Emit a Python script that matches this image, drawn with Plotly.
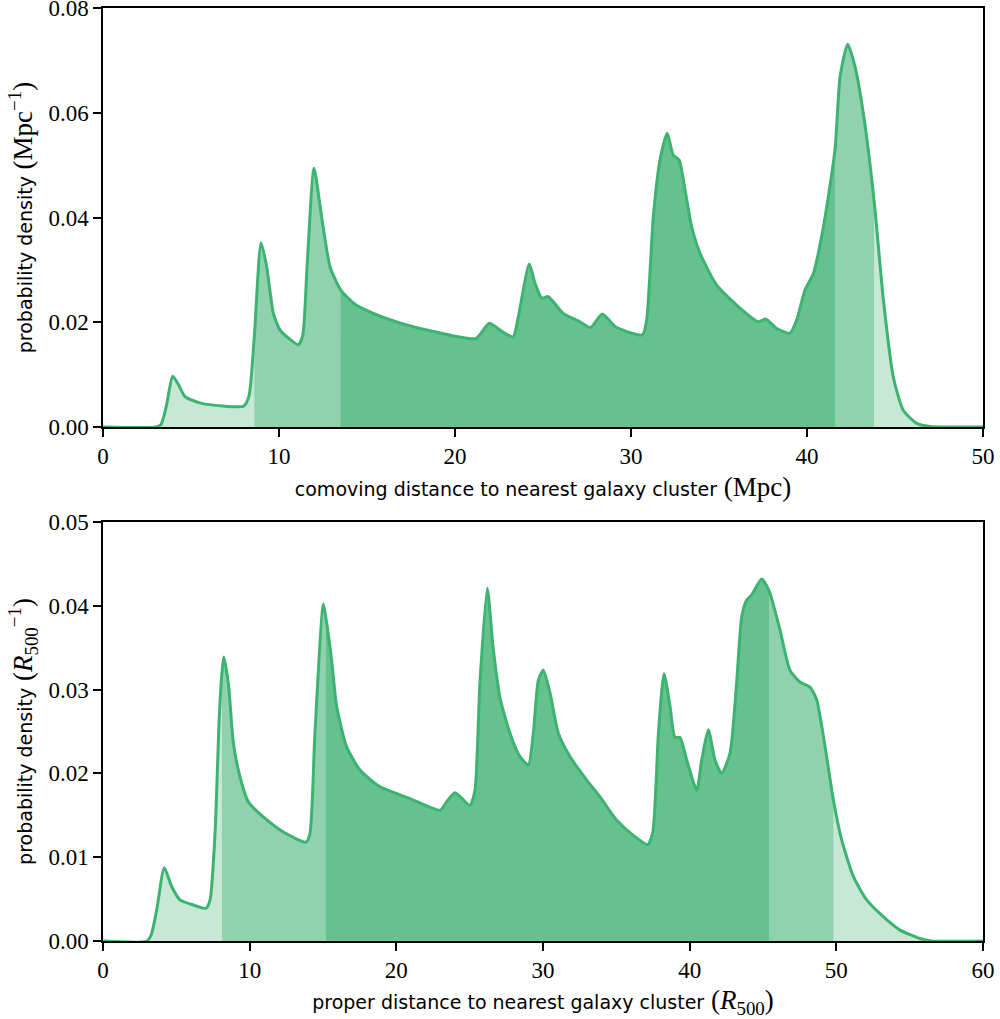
import plotly.graph_objects as go
from plotly.subplots import make_subplots

# ---- top panel: comoving distance (Mpc) ----
top_x = [0, 3.0, 3.3, 3.6, 3.96, 4.3, 4.66, 5.5, 6.8, 8.0, 8.3, 8.6, 8.98, 9.3, 9.68, 10.06,
         10.6, 11.1, 11.35, 11.6, 11.99, 12.42, 12.9, 13.5, 14.3, 15.36, 17.25, 19.9, 21.2,
         21.95, 22.56, 23.3, 23.6, 24.22, 24.55, 24.93, 25.3, 26.15, 27.1, 27.7, 28.37, 29.09,
         29.94, 30.66, 30.89, 31.27, 31.65, 32.06, 32.4, 32.73, 33.07, 33.45, 33.92, 34.87,
         36.19, 37.23, 37.67, 38.28, 39.03, 39.41, 39.89, 40.36, 40.93, 41.59, 41.88, 42.31,
         42.73, 43.2, 43.81, 44.34, 44.9, 45.47, 46.23, 47.0, 50]
top_y = [0, 0, 0.0005, 0.004, 0.0097, 0.0080, 0.0058, 0.0046, 0.0040, 0.0040, 0.0060, 0.0175,
         0.0352, 0.0306, 0.0217, 0.0185, 0.0168, 0.0157, 0.0175, 0.031, 0.0494, 0.0402, 0.0306,
         0.0262, 0.0235, 0.0217, 0.0195, 0.0174, 0.0169, 0.0198, 0.0185, 0.0172, 0.0211, 0.0311,
         0.0274, 0.0246, 0.0249, 0.0217, 0.0201, 0.0190, 0.0216, 0.0192, 0.0180, 0.0176, 0.0204,
         0.0402, 0.0510, 0.0561, 0.0519, 0.0510, 0.0453, 0.0382, 0.0332, 0.0271, 0.0227, 0.0201,
         0.0206, 0.0188, 0.0179, 0.0204, 0.0262, 0.0293, 0.0382, 0.0529, 0.0669, 0.0731, 0.0688,
         0.0599, 0.0433, 0.0243, 0.0096, 0.0032, 0.0007, 0.0001, 0]
top_mid = [8.6, 43.81]     # medium-shaded interval
top_core = [13.5, 41.59]   # dark-shaded interval

# ---- bottom panel: proper distance (R500) ----
bot_x = [0, 3.0, 3.3, 3.66, 4.18, 4.68, 5.25, 6.16, 7.02, 7.3, 7.64, 7.93, 8.11, 8.23, 8.55,
         8.89, 9.34, 9.91, 10.93, 12.3, 13.84, 14.11, 14.45, 15.02, 15.2, 15.59, 15.93, 16.61,
         17.52, 18.89, 20.93, 22.98, 23.43, 24.0, 25.02, 25.36, 25.7, 26.2, 26.6, 27.07, 27.75,
         28.43, 29.0, 29.34, 29.68, 30.02, 30.48, 31.05, 31.84, 32.98, 33.89, 35.03, 36.16,
         37.14, 37.48, 37.87, 38.25, 38.66, 39.0, 39.34, 39.8, 40.48, 40.82, 41.27, 41.73,
         42.18, 42.75, 43.2, 43.55, 43.89, 44.23, 44.9, 45.41, 46.16, 46.84, 47.52, 48.2,
         48.66, 49.23, 49.8, 50.36, 51.16, 52.07, 53.2, 54.34, 55.7, 56.5, 60]
bot_y = [0, 0, 0.0008, 0.0037, 0.00875, 0.0065, 0.0049, 0.0043, 0.0039, 0.0049, 0.0129, 0.0268,
         0.032, 0.0339, 0.0307, 0.0236, 0.0196, 0.0166, 0.0148, 0.0130, 0.0118, 0.0128, 0.0248,
         0.0402, 0.0385, 0.0335, 0.0280, 0.0232, 0.0204, 0.0184, 0.0170, 0.0156, 0.0166, 0.0177,
         0.0162, 0.0180, 0.0308, 0.0421, 0.0350, 0.0290, 0.0248, 0.0220, 0.0210, 0.0248, 0.0311,
         0.0323, 0.0296, 0.0248, 0.0220, 0.0192, 0.0172, 0.0144, 0.0126, 0.0115, 0.0129, 0.0248,
         0.0319, 0.0280, 0.0243, 0.0243, 0.0216, 0.0180, 0.0216, 0.0252, 0.0216, 0.0200, 0.0224,
         0.0308, 0.0387, 0.0407, 0.0413, 0.0432, 0.0418, 0.0371, 0.0323, 0.0309, 0.0303, 0.0288,
         0.0232, 0.0168, 0.0121, 0.0077, 0.0049, 0.0029, 0.0013, 0.0003, 0.0, 0]
bot_mid = [8.11, 49.8]
bot_core = [15.2, 45.41]

LINE = "#3cb371"
LIGHT = "#c6e8d4"
MID = "#8fd2ad"
DARK = "#65c28f"
SERIF = "Liberation Serif"
SANS = "DejaVu Sans"

fig = make_subplots(rows=2, cols=1, vertical_spacing=0.1018)


def add_panel(xs, ys, mid, core, row):
    def sub(a, b):
        pts = [(x, y) for x, y in zip(xs, ys) if a <= x <= b]
        return [p[0] for p in pts], [p[1] for p in pts]

    common = dict(mode="lines", line=dict(width=0, shape="spline", smoothing=0.6),
                  fill="tozeroy", hoverinfo="skip", showlegend=False)
    fig.add_trace(go.Scatter(x=xs, y=ys, fillcolor=LIGHT, **common), row=row, col=1)
    mx, my = sub(*mid)
    fig.add_trace(go.Scatter(x=mx, y=my, fillcolor=MID, **common), row=row, col=1)
    cx, cy = sub(*core)
    fig.add_trace(go.Scatter(x=cx, y=cy, fillcolor=DARK, **common), row=row, col=1)
    fig.add_trace(go.Scatter(x=xs, y=ys, mode="lines", showlegend=False, hoverinfo="skip",
                             line=dict(color=LINE, width=3, shape="spline", smoothing=0.6)),
                  row=row, col=1)


add_panel(top_x, top_y, top_mid, top_core, 1)
add_panel(bot_x, bot_y, bot_mid, bot_core, 2)

axis_common = dict(showline=True, mirror=True, linecolor="black", linewidth=1.5,
                   ticks="outside", ticklen=8, tickwidth=1.5, tickcolor="black",
                   showgrid=False, zeroline=False, automargin=False,
                   ticklabeloverflow="allow",
                   tickfont=dict(family=SERIF, size=23, color="black"))


def label(sans, serif):
    return (f'<span style="font-family:{SANS};font-size:19px">{sans}</span> '
            f'<span style="font-size:27px">{serif}</span>')


tfont = dict(family=SERIF, size=27, color="black")
fig.update_xaxes(range=[0, 50], dtick=10, row=1, col=1, **axis_common,
                 title=dict(text=label("comoving distance to nearest galaxy cluster", "(Mpc)"),
                            font=tfont, standoff=9))
fig.update_xaxes(range=[0, 60], dtick=10, row=2, col=1, **axis_common,
                 title=dict(text=label("proper distance to nearest galaxy cluster",
                                       "(<i>R</i><sub>500</sub>)"),
                            font=tfont, standoff=9))
fig.update_yaxes(range=[0, 0.08], dtick=0.02, tickformat=".2f", row=1, col=1, **axis_common,
                 title=dict(text=label("probability density", "(Mpc<sup>−1</sup>)"),
                            font=tfont, standoff=8))
fig.update_yaxes(range=[0, 0.05], dtick=0.01, tickformat=".2f", row=2, col=1, **axis_common,
                 title=dict(text=label("probability density",
                                       "(<i>R</i><sub>500</sub><sup>−1</sup>)"),
                            font=tfont, standoff=8))

fig.update_layout(width=1000, height=1019, margin=dict(l=103, r=17, t=8, b=78),
                  plot_bgcolor="white", paper_bgcolor="white", hovermode=False)

fig.write_html("out.html", config={"displayModeBar": False},
               post_script="document.body.style.margin='0';document.body.style.overflow='hidden';")
